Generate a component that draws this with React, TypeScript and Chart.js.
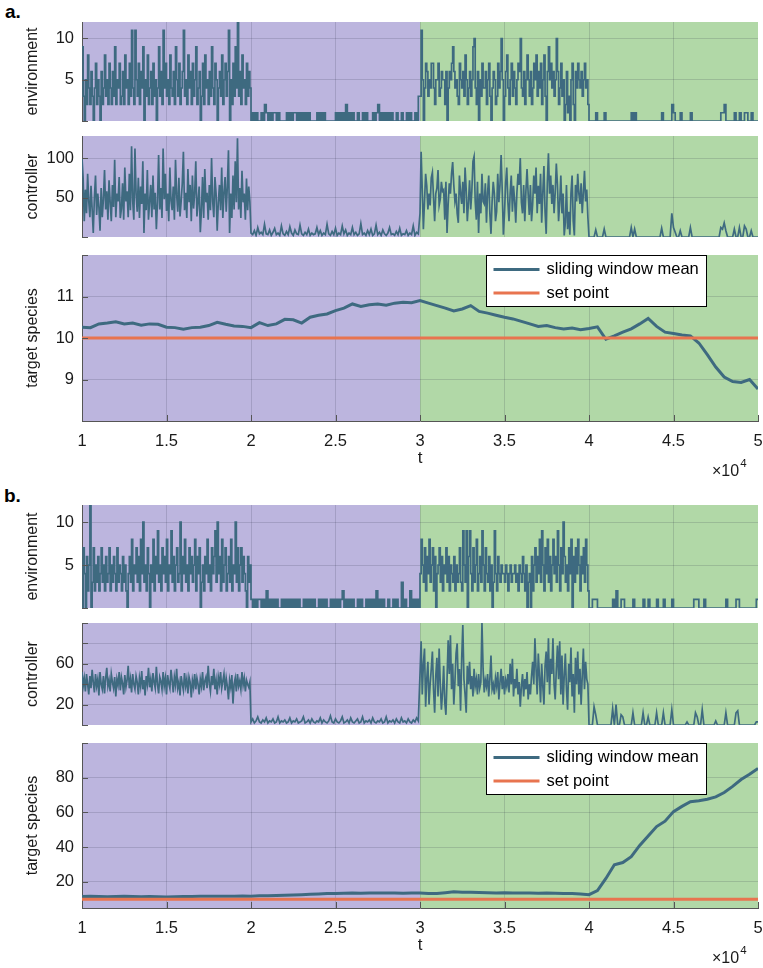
import React, { useEffect, useRef } from 'react';
import { Chart, registerables } from 'chart.js';

Chart.register(...registerables);

const FONT = '"Liberation Sans", Arial, Helvetica, sans-serif';
Chart.defaults.font.family = FONT;

// ---------- shared axis data ----------
const phaseBounds = [10000, 20000, 30000, 40000, 50000];
const regionBounds = [10000, 30000, 50000];
const regionColors = ['#bcb5de', '#b1d8a7'];
const xTicks = [10000, 15000, 20000, 25000, 30000, 35000, 40000, 45000, 50000];
const xTickLabels = ['1', '1.5', '2', '2.5', '3', '3.5', '4', '4.5', '5'];
const setPointValue = 10;

// ---------- panel a: environment ----------
const envA1 = [
  9, 3, 0, 5, 2, 8, 4, 2, 6, 3, 0, 4, 7, 2, 5, 3, 0, 6, 2, 4,
  8, 3, 5, 2, 7, 4, 2, 6, 3, 9, 2, 5, 4, 7, 2, 3, 6, 2, 8, 4,
  5, 2, 7, 3, 11, 4, 2, 11, 5, 3, 7, 2, 6, 4, 9, 0, 5, 3, 8, 2,
  4, 6, 2, 7, 3, 5, 0, 4, 9, 3, 6, 2, 11, 4, 7, 3, 5, 2, 8, 4,
  3, 6, 2, 9, 5, 3, 7, 2, 4, 6, 11, 3, 5, 2, 8, 4, 6, 2, 7, 3,
  5, 9, 2, 4, 6, 0, 3, 7, 2, 8, 4, 5, 2, 6, 3, 9, 4, 2, 7, 5,
  0, 4, 6, 3, 8, 2, 5, 7, 3, 6, 11, 0, 5, 2, 7, 3, 9, 4, 12, 3,
  6, 2, 8, 4, 5, 2, 7, 3, 6, 4,
];
const envA2 = [
  0, 1, 0, 1, 0, 0, 1, 0, 2, 1, 0, 1, 0, 1, 1, 0, 1, 0, 0, 0,
  0, 1, 0, 1, 0, 1, 1, 0, 1, 0, 1, 0, 1, 0, 1, 0, 0, 0, 0, 1,
  0, 1, 0, 1, 0, 0, 0, 0, 0, 0, 1, 0, 1, 0, 1, 0, 2, 0, 1, 0,
  1, 0, 0, 1, 0, 0, 1, 0, 1, 0, 0, 0, 1, 0, 1, 2, 0, 1, 0, 1,
  0, 1, 0, 1, 0, 0, 1, 0, 0, 1, 0, 0, 1, 0, 1, 0, 0, 1, 0, 3,
];
const envA3 = [
  3, 11, 5, 0, 4, 7, 6, 3, 5, 4, 7, 7, 4, 2, 5, 5, 7, 3, 4, 6,
  5, 5, 2, 6, 0, 4, 6, 5, 7, 9, 6, 4, 5, 3, 2, 7, 5, 4, 6, 3,
  8, 5, 2, 4, 6, 3, 5, 9, 10, 4, 2, 6, 0, 5, 3, 7, 4, 4, 6, 2,
  5, 7, 3, 0, 4, 6, 5, 2, 3, 7, 4, 6, 10, 5, 0, 3, 6, 8, 4, 2,
  5, 7, 3, 6, 4, 2, 5, 7, 6, 10, 4, 3, 6, 2, 5, 8, 5, 3, 6, 2,
  4, 7, 5, 8, 3, 6, 4, 7, 2, 5, 8, 3, 0, 6, 9, 5, 7, 4, 6, 3,
  5, 10, 6, 2, 4, 7, 3, 5, 0, 2, 6, 1, 3, 0, 5, 7, 2, 0, 6, 4,
  7, 5, 4, 6, 3, 5, 7, 4, 5, 2,
];
const envA4 = [
  0, 0, 0, 0, 1, 0, 0, 0, 0, 1, 0, 0, 0, 0, 0, 0, 0, 0, 0, 0,
  0, 0, 0, 0, 0, 1, 0, 1, 0, 0, 0, 0, 0, 0, 0, 0, 0, 0, 0, 0,
  0, 0, 0, 1, 0, 0, 0, 0, 0, 2, 1, 0, 0, 0, 1, 0, 0, 0, 0, 0,
  1, 0, 0, 0, 0, 0, 0, 0, 0, 0, 0, 0, 0, 0, 0, 0, 0, 0, 1, 1,
  2, 0, 0, 0, 0, 0, 1, 0, 0, 1, 0, 0, 1, 1, 0, 0, 1, 0, 0, 0,
];

// ---------- panel a: controller ----------
const ctrlA1 = [
  100, 75, 20, 60, 30, 80, 45, 25, 65, 35, 5, 50, 78, 28, 55, 38, 8, 62, 25, 48,
  85, 35, 58, 22, 72, 44, 20, 66, 38, 98, 25, 55, 45, 76, 24, 36, 68, 22, 88, 45,
  58, 25, 80, 34, 115, 46, 22, 112, 55, 32, 75, 24, 64, 42, 96, 5, 55, 34, 85, 22,
  45, 66, 25, 78, 35, 56, 10, 44, 104, 35, 62, 24, 112, 48, 80, 33, 55, 20, 88, 46,
  34, 64, 22, 98, 54, 32, 75, 26, 45, 68, 108, 34, 56, 24, 86, 44, 66, 20, 78, 36,
  55, 96, 26, 45, 64, 6, 34, 76, 24, 86, 44, 56, 22, 66, 34, 100, 45, 25, 76, 55,
  8, 44, 66, 34, 88, 24, 56, 76, 32, 64, 110, 5, 55, 24, 78, 35, 96, 44, 125, 35,
  62, 24, 84, 44, 55, 22, 74, 34, 64, 45,
];
const ctrlA2 = [
  5, 3, 8, 2, 12, 4, 6, 3, 16, 4, 3, 9, 2, 6, 11, 3, 5, 2, 14, 4,
  2, 7, 3, 13, 5, 2, 9, 4, 3, 15, 4, 2, 6, 3, 10, 2, 5, 3, 4, 12,
  3, 8, 2, 5, 3, 16, 4, 2, 7, 3, 11, 2, 5, 3, 14, 4, 9, 2, 5, 3,
  12, 3, 6, 2, 4, 17, 3, 5, 2, 8, 3, 10, 2, 4, 15, 3, 6, 2, 9, 4,
  2, 5, 12, 3, 4, 2, 7, 3, 11, 2, 4, 3, 8, 2, 5, 3, 14, 2, 6, 4,
];
const ctrlA3 = [
  30, 108, 60, 10, 45, 80, 65, 35, 55, 40, 75, 82, 50, 20, 55, 62, 85, 40, 48, 70,
  58, 60, 22, 70, 5, 42, 68, 55, 80, 95, 66, 45, 55, 30, 18, 78, 56, 42, 70, 30,
  88, 60, 20, 44, 72, 35, 58, 96, 102, 45, 22, 70, 5, 55, 30, 80, 45, 42, 68, 18,
  56, 78, 30, 4, 45, 70, 55, 20, 32, 80, 44, 66, 104, 58, 3, 30, 68, 88, 45, 20,
  55, 78, 32, 65, 46, 18, 56, 80, 66, 100, 44, 30, 66, 20, 58, 86, 55, 28, 66, 20,
  42, 78, 55, 88, 30, 65, 42, 80, 18, 56, 90, 32, 4, 68, 106, 55, 78, 42, 66, 30,
  56, 93, 66, 20, 44, 78, 30, 55, 2, 18, 66, 10, 32, 3, 55, 78, 20, 2, 66, 45,
  80, 55, 42, 68, 30, 56, 84, 45, 60, 25,
];
const ctrlA4 = [
  0, 0, 0, 0, 9, 0, 0, 0, 0, 10, 0, 0, 0, 0, 0, 0, 0, 0, 0, 0,
  0, 0, 0, 0, 0, 12, 0, 10, 0, 0, 0, 0, 0, 0, 0, 0, 0, 0, 0, 0,
  0, 0, 0, 11, 0, 0, 0, 0, 0, 30, 12, 6, 0, 0, 8, 0, 0, 0, 0, 0,
  12, 0, 0, 0, 0, 0, 0, 0, 0, 0, 0, 0, 0, 0, 0, 0, 0, 0, 12, 10,
  18, 8, 0, 0, 0, 0, 10, 0, 0, 12, 0, 0, 14, 10, 0, 0, 8, 0, 0, 0,
];

// ---------- panel a: target species (sliding window mean, t = 1.00 .. 5.00 step 0.05 x1e4) ----------
const targetA = [
  10.26, 10.25, 10.34, 10.36, 10.39, 10.34, 10.36, 10.31, 10.34, 10.33,
  10.26, 10.25, 10.21, 10.25, 10.26, 10.30, 10.38, 10.33, 10.29, 10.28,
  10.25, 10.37, 10.30, 10.34, 10.45, 10.44, 10.36, 10.50, 10.55, 10.58,
  10.66, 10.72, 10.82, 10.76, 10.80, 10.82, 10.79, 10.84, 10.86, 10.85,
  10.90, 10.84, 10.78, 10.72, 10.65, 10.70, 10.78, 10.64, 10.60, 10.55,
  10.50, 10.46, 10.40, 10.34, 10.28, 10.30, 10.25, 10.22, 10.24, 10.20,
  10.23, 10.27, 9.97, 10.05, 10.14, 10.22, 10.34, 10.47, 10.28, 10.14,
  10.11, 10.07, 10.05, 9.88, 9.60, 9.30, 9.06, 8.95, 8.93, 9.00, 8.77,
];

// ---------- panel b: environment ----------
const envB1 = [
  0, 7, 4, 0, 6, 2, 5, 12, 0, 3, 7, 2, 5, 3, 6, 2, 4, 7, 3, 5,
  2, 6, 3, 4, 7, 2, 5, 3, 6, 4, 2, 7, 3, 5, 4, 2, 6, 3, 5, 2,
  0, 4, 6, 3, 8, 2, 5, 4, 7, 3, 6, 2, 8, 4, 10, 3, 5, 2, 7, 4,
  0, 5, 3, 8, 2, 6, 4, 9, 3, 5, 2, 7, 4, 6, 3, 8, 2, 5, 4, 9,
  3, 6, 2, 5, 7, 3, 4, 10, 2, 6, 4, 8, 3, 5, 2, 7, 4, 6, 3, 5,
  8, 2, 6, 4, 7, 0, 3, 5, 2, 6, 4, 8, 3, 5, 2, 7, 4, 6, 9, 3,
  10, 4, 6, 2, 8, 3, 5, 7, 2, 4, 6, 3, 8, 2, 5, 4, 10, 3, 7, 2,
  5, 7, 3, 6, 4, 2, 0, 6, 3, 5,
];
const envB2 = [
  1, 0, 1, 0, 1, 1, 0, 1, 0, 2, 0, 1, 0, 1, 0, 1, 0, 0, 1, 0,
  1, 0, 1, 0, 1, 0, 1, 0, 1, 0, 0, 1, 0, 1, 0, 1, 0, 1, 0, 0,
  1, 0, 1, 0, 1, 0, 0, 1, 0, 1, 0, 1, 0, 1, 2, 0, 1, 0, 1, 0,
  1, 0, 0, 1, 0, 1, 0, 0, 1, 0, 1, 0, 1, 0, 2, 0, 1, 0, 1, 0,
  0, 1, 0, 0, 1, 0, 1, 0, 0, 3, 0, 1, 0, 0, 2, 0, 1, 0, 1, 0,
];
const envB3 = [
  4, 8, 5, 3, 7, 2, 6, 4, 8, 3, 5, 7, 2, 6, 0, 4, 5, 7, 3, 6,
  2, 5, 4, 7, 3, 6, 2, 5, 4, 3, 6, 2, 5, 3, 4, 7, 3, 2, 9, 5,
  3, 9, 0, 6, 9, 4, 2, 7, 3, 5, 8, 2, 4, 6, 3, 9, 5, 2, 7, 4,
  3, 6, 2, 5, 0, 3, 9, 4, 2, 6, 4, 3, 5, 4, 4, 3, 5, 4, 2, 4,
  5, 3, 4, 4, 5, 3, 4, 2, 5, 4, 3, 6, 4, 2, 5, 0, 3, 4, 0, 6,
  2, 5, 7, 3, 6, 4, 8, 3, 9, 5, 2, 7, 4, 8, 3, 6, 2, 5, 8, 4,
  6, 3, 9, 5, 2, 7, 4, 10, 6, 3, 5, 2, 7, 4, 8, 0, 6, 3, 7, 4,
  8, 5, 2, 6, 4, 7, 3, 8, 5, 2,
];
const envB4 = [
  0, 0, 1, 1, 1, 0, 0, 0, 0, 0, 0, 0, 0, 0, 1, 0, 2, 0, 0, 1,
  1, 0, 0, 0, 0, 0, 1, 0, 0, 0, 0, 0, 1, 0, 0, 1, 0, 0, 0, 0,
  1, 0, 0, 0, 1, 0, 0, 0, 0, 1, 0, 0, 0, 0, 0, 0, 0, 0, 0, 0,
  0, 0, 1, 1, 1, 0, 0, 0, 1, 0, 0, 0, 0, 0, 0, 0, 0, 0, 0, 0,
  0, 1, 0, 0, 0, 0, 0, 1, 1, 0, 0, 0, 0, 0, 0, 0, 0, 0, 0, 1,
];

// ---------- panel b: controller ----------
const ctrlB1 = [
  52, 38, 46, 33, 50, 40, 30, 48, 36, 54, 42, 32, 50, 38, 45, 29, 52, 40, 35, 48,
  31, 46, 56, 38, 44, 33, 50, 42, 36, 47, 28, 45, 39, 52, 34, 47, 41, 30, 49, 37,
  44, 58, 36, 45, 32, 50, 40, 35, 48, 42, 30, 46, 38, 53, 35, 44, 29, 48, 40, 56,
  37, 45, 33, 51, 42, 36, 57, 40, 31, 47, 43, 35, 52, 38, 46, 30, 49, 41, 36, 54,
  44, 32, 47, 39, 55, 36, 42, 29, 48, 40, 34, 51, 38, 45, 31, 47, 42, 27, 44, 37,
  50, 35, 46, 40, 30, 45, 38, 52, 34, 43, 47, 36, 58, 41, 33, 48, 39, 55, 35, 44,
  30, 47, 40, 52, 36, 43, 50, 34, 46, 38, 25, 44, 37, 49, 21, 40, 46, 33, 50, 38,
  43, 35, 52, 39, 46, 33, 44, 40, 37, 42,
];
const ctrlB2 = [
  3, 6, 2, 4, 8, 3, 2, 5, 3, 7, 2, 4, 3, 6, 2, 3, 8, 2, 4, 3,
  5, 2, 3, 7, 2, 4, 3, 6, 2, 3, 4, 8, 2, 3, 5, 2, 6, 3, 2, 4,
  3, 7, 2, 5, 3, 2, 4, 9, 3, 2, 6, 3, 2, 4, 8, 2, 3, 5, 2, 7,
  3, 2, 4, 6, 2, 3, 8, 2, 4, 3, 5, 2, 7, 3, 2, 4, 3, 6, 2, 3,
  8, 2, 4, 3, 5, 2, 6, 3, 2, 7, 3, 4, 2, 6, 3, 2, 5, 3, 7, 4,
];
const ctrlB3 = [
  50, 82, 30, 60, 75, 18, 45, 62, 20, 40, 55, 72, 35, 12, 48, 66, 28, 75, 40, 15,
  32, 58, 22, 10, 45, 83, 50, 88, 35, 60, 20, 42, 70, 80, 38, 55, 14, 65, 98, 45,
  30, 12, 58, 40, 62, 35, 48, 28, 55, 38, 45, 30, 50, 36, 42, 100, 55, 32, 44, 38,
  50, 28, 45, 68, 35, 40, 30, 46, 38, 52, 25, 42, 55, 35, 48, 30, 44, 38, 50, 32,
  60, 40, 65, 28, 45, 36, 55, 30, 42, 18, 38, 50, 28, 45, 35, 52, 25, 40, 30, 48,
  62, 40, 85, 55, 30, 70, 48, 22, 60, 38, 20, 58, 72, 42, 85, 30, 65, 50, 85, 40,
  25, 55, 78, 45, 82, 30, 68, 20, 48, 70, 35, 15, 60, 42, 76, 28, 50, 12, 66, 40,
  72, 30, 55, 20, 48, 75, 35, 62, 45, 40,
];
const ctrlB4 = [
  0, 0, 0, 18, 10, 0, 0, 0, 0, 0, 0, 0, 0, 0, 16, 0, 20, 0, 0, 10,
  8, 0, 0, 0, 0, 0, 12, 0, 0, 0, 0, 0, 12, 0, 0, 8, 0, 0, 0, 0,
  12, 0, 0, 0, 12, 0, 0, 0, 0, 15, 0, 0, 0, 0, 0, 0, 0, 0, 3, 0,
  0, 0, 0, 12, 8, 0, 0, 15, 0, 0, 0, 0, 0, 0, 0, 4, 0, 0, 0, 0,
  0, 12, 0, 0, 0, 0, 0, 12, 14, 0, 0, 0, 0, 0, 0, 0, 0, 0, 0, 3,
];

// ---------- panel b: target species ----------
const targetB = [
  11.6, 11.7, 11.6, 11.5, 11.6, 11.7, 11.6, 11.5, 11.6, 11.5,
  11.4, 11.5, 11.6, 11.6, 11.7, 11.7, 11.8, 11.7, 11.8, 11.9,
  11.8, 12.1, 12.0, 12.2, 12.3, 12.5, 12.7, 12.9, 13.1, 13.3,
  13.4, 13.5, 13.6, 13.5, 13.6, 13.7, 13.6, 13.6, 13.5, 13.6,
  13.6, 13.3, 13.4, 13.8, 14.3, 14.1, 14.0, 13.9, 13.8, 13.7,
  13.8, 13.7, 13.6, 13.6, 13.5, 13.6, 13.5, 13.4, 13.3, 13.1,
  12.7, 15.0, 22.0, 29.9, 31.2, 34.5, 41.0, 46.5, 51.9, 55.0,
  60.5, 63.5, 66.2, 66.8, 67.6, 69.0, 71.5, 75.0, 79.0, 82.0, 85.4,
];

// ---------- helpers ----------
type Pt = { x: number; y: number };
function phaseSeries(parts: number[][]): Pt[] {
  const pts: Pt[] = [];
  parts.forEach((arr, p) => {
    const start = phaseBounds[p];
    const step = (phaseBounds[p + 1] - start) / arr.length;
    arr.forEach((v, i) => pts.push({ x: start + i * step, y: v }));
  });
  const last = parts[parts.length - 1];
  pts.push({ x: phaseBounds[parts.length], y: last[last.length - 1] });
  return pts;
}
function evenSeries(arr: number[]): Pt[] {
  const a = phaseBounds[0];
  const b = phaseBounds[phaseBounds.length - 1];
  return arr.map((v, i) => ({ x: a + (i * (b - a)) / (arr.length - 1), y: v }));
}
function constSeries(v: number): Pt[] {
  return [
    { x: phaseBounds[0], y: v },
    { x: phaseBounds[phaseBounds.length - 1], y: v },
  ];
}

const LINE = '#3e6a80';
const ORANGE = '#e8744f';
const GRID = 'rgba(40,40,60,0.16)';
const AXIS = '#555555';
const TEXT = '#1a1a1a';
const PLOT_LEFT = 82;
const PLOT_RIGHT = 758;
const PAGE_W = 763;
const PAD_T = 4;
const X_AXIS_H = 58;

type PanelCfg = {
  top: number;
  bottom: number;
  yMin: number;
  yMax: number;
  yTicks: number[];
  yLabels: number[];
  title: string;
  kind: 'env' | 'ctrl' | 'target';
  series: Pt[];
};

const panels: PanelCfg[] = [
  { top: 22, bottom: 121, yMin: 0, yMax: 12, yTicks: [0, 5, 10], yLabels: [5, 10], title: 'environment', kind: 'env', series: phaseSeries([envA1, envA2, envA3, envA4]) },
  { top: 136, bottom: 237, yMin: 0, yMax: 128, yTicks: [0, 50, 100], yLabels: [50, 100], title: 'controller', kind: 'ctrl', series: phaseSeries([ctrlA1, ctrlA2, ctrlA3, ctrlA4]) },
  { top: 255, bottom: 421, yMin: 8, yMax: 12, yTicks: [8, 9, 10, 11, 12], yLabels: [9, 10, 11], title: 'target species', kind: 'target', series: evenSeries(targetA) },
  { top: 505, bottom: 608, yMin: 0, yMax: 12, yTicks: [0, 5, 10], yLabels: [5, 10], title: 'environment', kind: 'env', series: phaseSeries([envB1, envB2, envB3, envB4]) },
  { top: 623, bottom: 725, yMin: 0, yMax: 100, yTicks: [0, 20, 40, 60, 80, 100], yLabels: [20, 60], title: 'controller', kind: 'ctrl', series: phaseSeries([ctrlB1, ctrlB2, ctrlB3, ctrlB4]) },
  { top: 743, bottom: 908, yMin: 5, yMax: 100, yTicks: [20, 40, 60, 80, 100], yLabels: [20, 40, 60, 80], title: 'target species', kind: 'target', series: evenSeries(targetB) },
];

// ---------- plugins ----------
const regionsPlugin = {
  id: 'regions',
  beforeDraw(chart: any) {
    const { ctx, chartArea, scales } = chart;
    ctx.save();
    for (let i = 0; i < regionBounds.length - 1; i++) {
      const x0 = scales.x.getPixelForValue(regionBounds[i]);
      const x1 = scales.x.getPixelForValue(regionBounds[i + 1]);
      ctx.fillStyle = regionColors[i];
      ctx.fillRect(x0, chartArea.top, x1 - x0, chartArea.bottom - chartArea.top);
    }
    ctx.restore();
  },
};

const innerTicksPlugin = {
  id: 'innerTicks',
  afterDraw(chart: any, _a: any, opts: any) {
    const { ctx, chartArea, scales } = chart;
    ctx.save();
    ctx.strokeStyle = AXIS;
    ctx.lineWidth = 1;
    ctx.beginPath();
    for (const t of scales.y.ticks) {
      const y = Math.round(scales.y.getPixelForValue(t.value)) + 0.5;
      ctx.moveTo(chartArea.left, y);
      ctx.lineTo(chartArea.left + 6, y);
    }
    if (opts.xTicks) {
      for (const t of scales.x.ticks) {
        const x = Math.round(scales.x.getPixelForValue(t.value)) + 0.5;
        ctx.moveTo(x, chartArea.bottom);
        ctx.lineTo(x, chartArea.bottom - 6);
      }
    }
    ctx.stroke();
    ctx.restore();
  },
};

const boxLegendPlugin = {
  id: 'boxLegend',
  afterDraw(chart: any, _a: any, opts: any) {
    if (!opts.show) return;
    const { ctx, chartArea } = chart;
    const left = chartArea.left + 404.5;
    const top = chartArea.top + 0.5;
    const w = 220;
    const h = 51;
    ctx.save();
    ctx.fillStyle = '#ffffff';
    ctx.fillRect(left, top, w, h);
    ctx.strokeStyle = '#000000';
    ctx.lineWidth = 1;
    ctx.strokeRect(left, top, w, h);
    ctx.font = `16.5px ${FONT}`;
    ctx.textBaseline = 'middle';
    ctx.textAlign = 'left';
    chart.data.datasets.forEach((ds: any, i: number) => {
      const y = top + 14 + i * 23.5;
      ctx.strokeStyle = ds.borderColor;
      ctx.lineWidth = 3;
      ctx.beginPath();
      ctx.moveTo(left + 7, y);
      ctx.lineTo(left + 53, y);
      ctx.stroke();
      ctx.fillStyle = '#000000';
      ctx.fillText(ds.label, left + 60, y);
    });
    ctx.restore();
  },
};

const exponentPlugin = {
  id: 'exponent',
  afterDraw(chart: any, _a: any, opts: any) {
    if (!opts.show) return;
    const { ctx, chartArea } = chart;
    ctx.save();
    ctx.fillStyle = TEXT;
    ctx.textBaseline = 'alphabetic';
    ctx.textAlign = 'left';
    ctx.font = `16px ${FONT}`;
    const base = '\u00d710';
    const x = chartArea.right - 46;
    const y = chartArea.bottom + 55;
    ctx.fillText(base, x, y);
    const w = ctx.measureText(base).width;
    ctx.font = `11.5px ${FONT}`;
    ctx.fillText('4', x + w + 1, y - 9);
    ctx.restore();
  },
};

function buildConfig(cfg: PanelCfg): any {
  const isTarget = cfg.kind === 'target';
  const datasets: any[] = isTarget
    ? [
        { label: 'sliding window mean', data: cfg.series, borderColor: LINE, borderWidth: 3, order: 1 },
        { label: 'set point', data: constSeries(setPointValue), borderColor: ORANGE, borderWidth: 3, order: 0 },
      ]
    : [
        { label: cfg.title, data: cfg.series, borderColor: LINE, borderWidth: 1.7, stepped: cfg.kind === 'env' },
      ];
  datasets.forEach((d) => {
    d.pointRadius = 0;
    d.tension = 0;
    d.fill = false;
  });
  const endColor = (ctx: any, lo: number, hi: number) =>
    ctx.tick && (ctx.tick.value === lo || ctx.tick.value === hi) ? 'rgba(0,0,0,0)' : GRID;

  return {
    type: 'line',
    data: { datasets },
    plugins: [regionsPlugin, innerTicksPlugin, boxLegendPlugin, exponentPlugin],
    options: {
      responsive: false,
      animation: false,
      devicePixelRatio: 1,
      events: [],
      parsing: false,
      normalized: true,
      layout: { padding: { top: PAD_T, right: PAGE_W - PLOT_RIGHT, bottom: isTarget ? 0 : 3, left: 0 } },
      plugins: {
        legend: { display: false },
        tooltip: { enabled: false },
        title: { display: false },
        innerTicks: { xTicks: isTarget },
        boxLegend: { show: isTarget },
        exponent: { show: isTarget },
      },
      scales: {
        x: {
          type: 'linear',
          min: phaseBounds[0],
          max: phaseBounds[phaseBounds.length - 1],
          afterBuildTicks: (s: any) => {
            s.ticks = xTicks.map((v) => ({ value: v }));
          },
          afterFit: (s: any) => {
            s.height = isTarget ? X_AXIS_H : 0;
            s.paddingLeft = 0;
            s.paddingRight = 0;
          },
          grid: { color: (ctx: any) => endColor(ctx, xTicks[0], xTicks[xTicks.length - 1]), drawTicks: false, lineWidth: 1 },
          border: { display: isTarget, color: AXIS, width: 1 },
          ticks: {
            display: isTarget,
            padding: 11,
            autoSkip: false,
            maxRotation: 0,
            color: TEXT,
            font: { family: FONT, size: 16.5 },
            callback: (_v: any, i: number) => xTickLabels[i] ?? '',
          },
          title: {
            display: isTarget,
            text: 't',
            color: TEXT,
            font: { family: FONT, size: 17 },
            padding: { top: 0, bottom: 10 },
          },
        },
        y: {
          type: 'linear',
          min: cfg.yMin,
          max: cfg.yMax,
          afterBuildTicks: (s: any) => {
            s.ticks = cfg.yTicks.map((v) => ({ value: v }));
          },
          afterFit: (s: any) => {
            s.width = PLOT_LEFT;
            s.paddingTop = 0;
            s.paddingBottom = 0;
          },
          grid: { color: (ctx: any) => endColor(ctx, cfg.yMin, cfg.yMax), drawTicks: false, lineWidth: 1 },
          border: { display: true, color: AXIS, width: 1 },
          ticks: {
            padding: 8,
            autoSkip: false,
            color: TEXT,
            font: { family: FONT, size: 16.5 },
            callback: (v: any) => (cfg.yLabels.includes(Number(v)) ? String(v) : ''),
          },
          title: {
            display: true,
            text: cfg.title,
            color: TEXT,
            font: { family: FONT, size: 16 },
            padding: { top: 23, bottom: 0 },
          },
        },
      },
    },
  };
}

function Panel({ cfg }: { cfg: PanelCfg }) {
  const ref = useRef<HTMLCanvasElement>(null);
  const isTarget = cfg.kind === 'target';
  const h = PAD_T + (cfg.bottom - cfg.top) + (isTarget ? X_AXIS_H : 3);
  useEffect(() => {
    const chart = new Chart(ref.current as HTMLCanvasElement, buildConfig(cfg));
    return () => chart.destroy();
  }, []);
  return (
    <canvas
      ref={ref}
      width={PAGE_W}
      height={h}
      style={{ position: 'absolute', left: 0, top: cfg.top - PAD_T, width: PAGE_W, height: h }}
    />
  );
}

const labelStyle: React.CSSProperties = {
  position: 'absolute',
  fontFamily: FONT,
  fontWeight: 'bold',
  fontSize: 19,
  lineHeight: 'normal',
  color: '#000',
};

export default function App() {
  return (
    <div
      style={{
        position: 'absolute',
        left: 0,
        top: 0,
        width: PAGE_W,
        height: 968,
        overflow: 'hidden',
        background: '#ffffff',
      }}
    >
      <div style={{ ...labelStyle, left: 5, top: 1 }}>a.</div>
      <div style={{ ...labelStyle, left: 4, top: 485 }}>b.</div>
      {panels.map((p, i) => (
        <Panel key={i} cfg={p} />
      ))}
    </div>
  );
}
